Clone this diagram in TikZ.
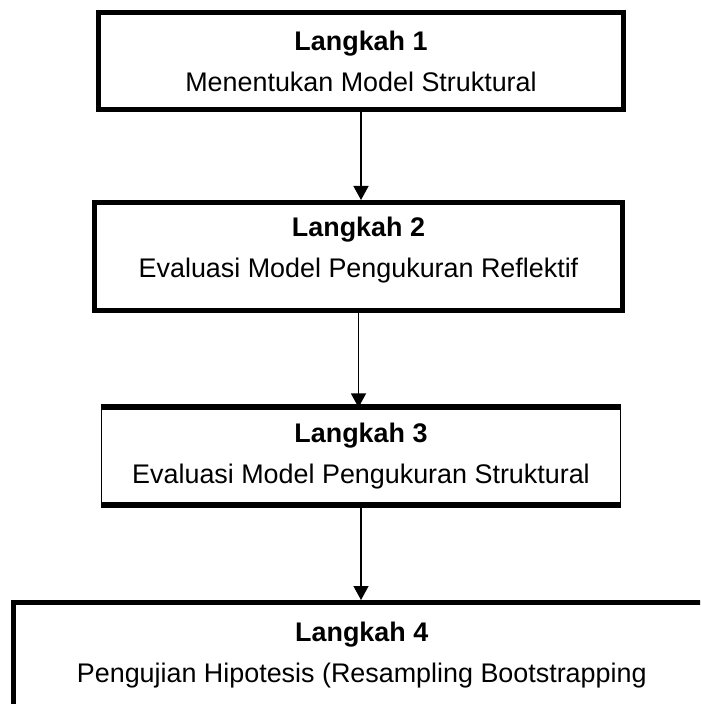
\documentclass[tikz,border=0pt]{standalone}
\usepackage{fontspec}
\setmainfont{Liberation Sans}
\usetikzlibrary{positioning, arrows.meta}
\tikzset{
  stepbox/.style = {draw, rectangle, line width=2.5pt, align=center, inner sep=0pt,
                    font=\fontsize{13.45}{20.5}\selectfont},
  ar/.style      = {-{Triangle[length=7pt, width=7.5pt]}, line width=0.75pt},
}
\begin{document}
\begin{tikzpicture}[x=0.5pt, y=-0.5pt]
  \useasboundingbox (0,0) rectangle (700,704);
  \clip (0,0) rectangle (700,704);
  % steps
  \node[stepbox, minimum width=262.5pt, minimum height=48.5pt] (s1) at (361,61)
    {\textbf{Langkah 1}\\Menentukan Model Struktural};
  \node[stepbox, minimum width=264pt, minimum height=54pt, text depth=9pt] (s2) at (358.5,256.5)
    {\textbf{Langkah 2}\\Evaluasi Model Pengukuran Reflektif};
  \node[stepbox, line width=0.6pt, minimum width=259.5pt, minimum height=48pt] (s3) at (361,456)
    {\textbf{Langkah 3}\\Evaluasi Model Pengukuran Struktural};
  \draw[line width=3pt] (s3.north west) -- (s3.north east)
                        (s3.south west) -- (s3.south east);
  \node[stepbox, minimum width=348.25pt, minimum height=52.25pt] (s4) at (361.75,654.75)
    {\textbf{Langkah 4}\\Pengujian Hipotesis (Resampling Bootstrapping};
  % arrows
  \draw[ar] (s1.south) -- (s1.south |- s2.north);
  \draw[ar] (s2.south) -- (s2.south |- s3.north);
  \draw[ar] (s3.south) -- (s3.south |- s4.north);
\end{tikzpicture}
\end{document}
